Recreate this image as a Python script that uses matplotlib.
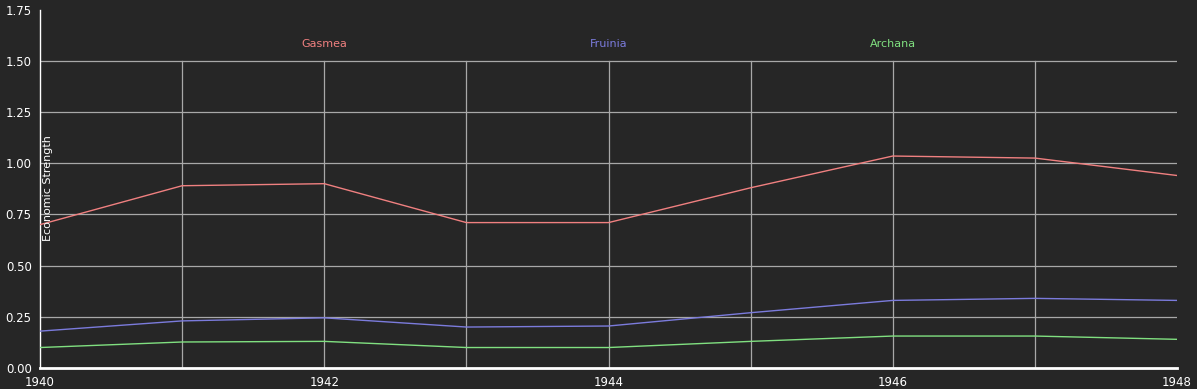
import matplotlib
matplotlib.use("Agg")
import matplotlib.pyplot as plt

years = [1940, 1941, 1942, 1943, 1944, 1945, 1946, 1947, 1948]
gasmea = [0.70, 0.89, 0.90, 0.71, 0.71, 0.88, 1.035, 1.025, 0.94]
fruinia = [0.18, 0.23, 0.245, 0.20, 0.205, 0.27, 0.33, 0.34, 0.33]
archana = [0.10, 0.127, 0.13, 0.10, 0.10, 0.13, 0.156, 0.156, 0.14]

names = ["Gasmea", "Fruinia", "Archana"]
series = [gasmea, fruinia, archana]
line_colors = ["#f08080", "#7b7bdc", "#80e080"]
label_years = [1942, 1944, 1946]

bg = "#262626"
fig = plt.figure(figsize=(11.97, 3.89), dpi=100, facecolor=bg)
ax = fig.add_axes([40 / 1197, 21 / 389, 1137 / 1197, 358.4 / 389])
ax.set_facecolor(bg)

ymax = 1.75
ax.set_xlim(1940, 1948)
ax.set_ylim(0, ymax)

# grid: horizontal lines up to 1.5, vertical lines stop at 1.5
for y in [0.25, 0.5, 0.75, 1.0, 1.25, 1.5]:
    ax.axhline(y, color="#a8a8a8", lw=0.9, zorder=1)
for x in years[1:-1]:
    ax.axvline(x, ymin=0, ymax=1.5 / ymax, color="#a8a8a8", lw=0.9, zorder=1)

for name, vals, c, ly in zip(names, series, line_colors, label_years):
    ax.plot(years, vals, color=c, lw=1, zorder=3)
    ax.text(ly, 1.58, name, color=c, fontsize=8, ha="center", va="center")

ax.text(1940.055, 0.88, "Economic Strength", rotation=90, color="white",
        fontsize=8, ha="center", va="center")

for s in ["top", "right"]:
    ax.spines[s].set_visible(False)
ax.spines["left"].set_color("white")
ax.spines["left"].set_linewidth(1)
ax.spines["bottom"].set_color("white")
ax.spines["bottom"].set_linewidth(2)

ax.set_yticks([0, 0.25, 0.5, 0.75, 1.0, 1.25, 1.5, 1.75])
ax.set_yticklabels(["0.00", "0.25", "0.50", "0.75", "1.00", "1.25", "1.50", "1.75"])
ax.set_xticks([1940, 1942, 1944, 1946, 1948])
ax.tick_params(colors="white", labelsize=8.5, length=0, pad=6)

fig.savefig("out.png", dpi=100, facecolor=bg)
